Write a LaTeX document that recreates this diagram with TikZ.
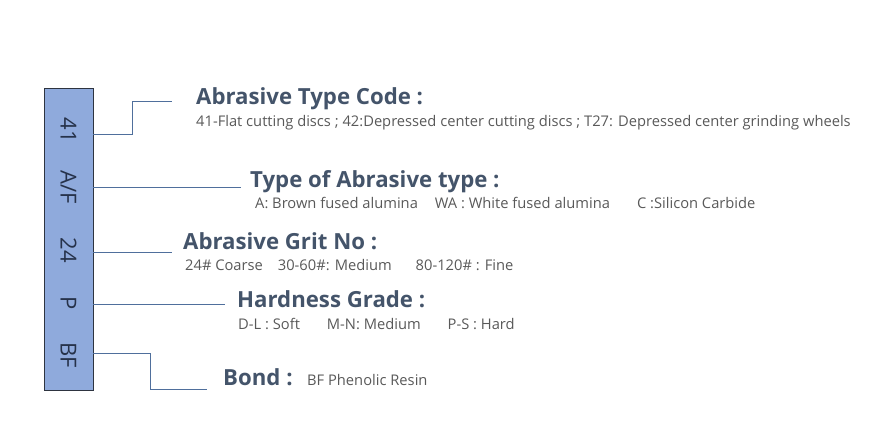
\documentclass[tikz,border=0pt]{standalone}
\usepackage{fontspec}
\setmainfont{Open Sans}
\definecolor{barfill}{HTML}{8FAADC}
\definecolor{barline}{HTML}{2E3440}
\definecolor{conncol}{HTML}{4F6F9C}
\definecolor{titlecol}{HTML}{44546A}
\definecolor{subcol}{HTML}{595959}
\definecolor{codecol}{HTML}{26324A}
\tikzset{
  barbox/.style={draw=barline, line width=0.8pt, fill=barfill, minimum width=49pt, minimum height=302pt, inner sep=0pt},
  codetxt/.style={rotate=-90, text=codecol, font=\fontsize{22}{22}\selectfont, inner sep=0pt},
  conn/.style={draw=conncol, line width=0.8pt},
  titletxt/.style={anchor=base west, inner sep=0pt, text=titlecol, font=\fontsize{22.2}{22.2}\selectfont\bfseries},
  subtxt/.style={anchor=base west, inner sep=0pt, text=subcol, font=\fontsize{14.7}{14.7}\selectfont},
}
\begin{document}
\begin{tikzpicture}[x=1pt,y=-1pt]
\useasboundingbox (0,0) rectangle (890,440);
\node[barbox, anchor=north west] (bar) at (44,88) {};
\node[codetxt] (c41) at (68.5,130) {41};
\node[codetxt] (caf) at (68.5,187) {A/F};
\node[codetxt] (c24) at (68.5,250) {24};
\node[codetxt] (cp) at (68.5,303) {P};
\node[codetxt] (cbf) at (68.5,355) {BF};
% titles and descriptions
\node[titletxt] (t41) at (196,104) {Abrasive Type Code :};
\node[subtxt] (d41) at (196,126) {41-Flat cutting discs ; 42:Depressed center cutting discs ; T27: Depressed center grinding wheels};
\node[titletxt] (taf) at (250,187) {Type of Abrasive type :};
\node[subtxt] (daf) at (255,208) {A: Brown fused alumina\hspace{17pt}WA : White fused alumina\hspace{27pt}C :Silicon Carbide};
\node[titletxt] (t24) at (183,249) {Abrasive Grit No :};
\node[subtxt] (d24) at (185,270) {24\# Coarse\hspace{15pt}30-60\#: Medium\hspace{24pt}80-120\# : Fine};
\node[titletxt] (tp) at (237,307) {Hardness Grade :};
\node[subtxt] (dp) at (238,329) {D-L : Soft\hspace{27pt}M-N: Medium\hspace{27pt}P-S : Hard};
\node[titletxt] (tbf) at (223,385) {Bond :};
\node[subtxt] (dbf) at (307,385) {BF Phenolic Resin};
% connector end points
\coordinate (s41) at (93,134);
\coordinate (e41) at (172,101);
\coordinate (saf) at (93,187);
\coordinate (eaf) at (241,187);
\coordinate (s24) at (93,252);
\coordinate (e24) at (172,252);
\coordinate (sp) at (93,304);
\coordinate (ep) at (225,304);
\coordinate (sbf) at (93,353);
\coordinate (ebf) at (207,389);
\draw[conn] (s41) -- (132,134) |- (e41);
\draw[conn] (saf) -- (eaf);
\draw[conn] (s24) -- (e24);
\draw[conn] (sp) -- (ep);
\draw[conn] (sbf) -- (150,353) |- (ebf);
\end{tikzpicture}
\end{document}
